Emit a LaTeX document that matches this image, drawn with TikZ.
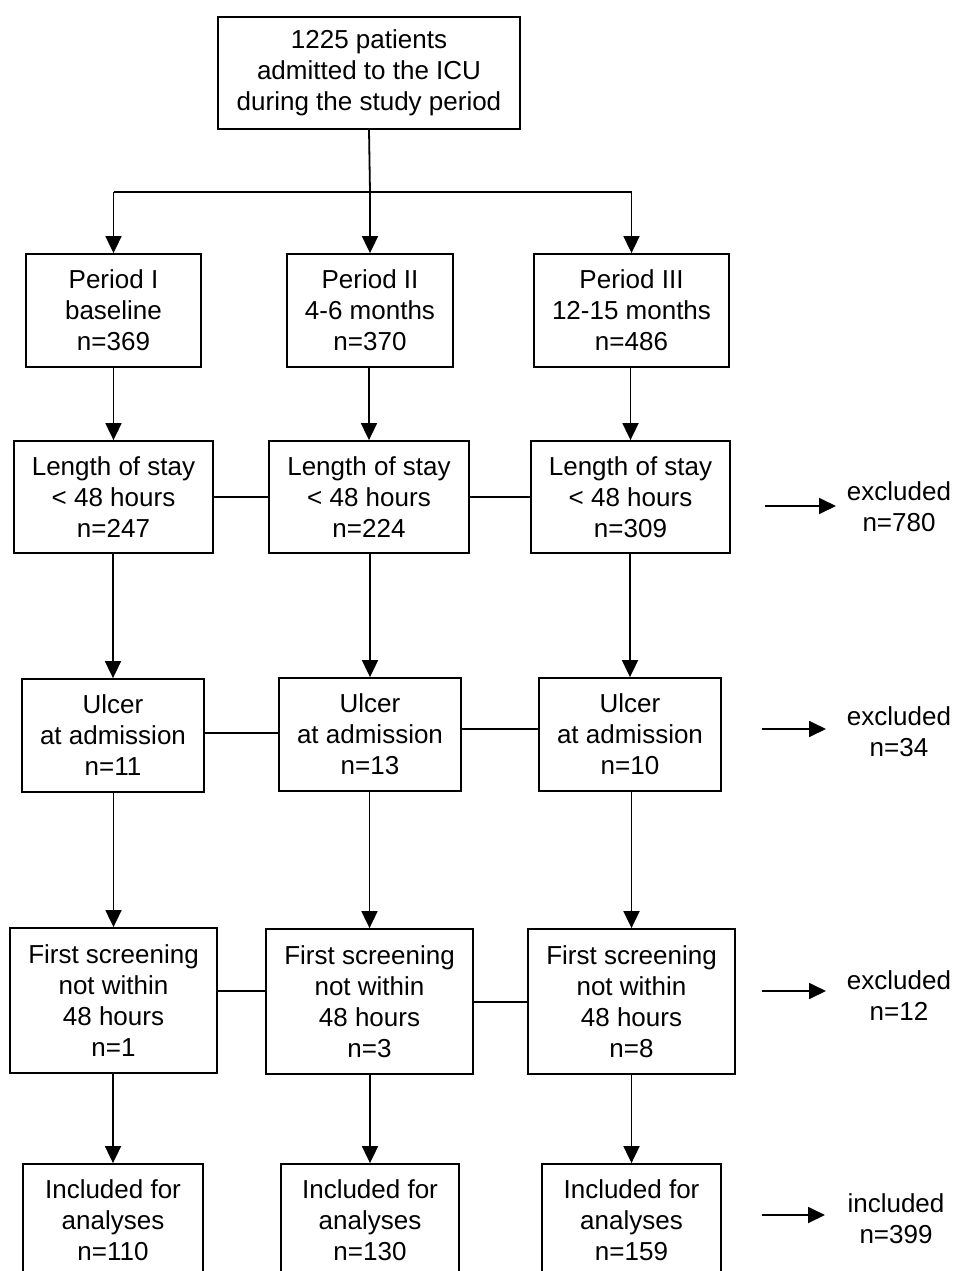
\documentclass[tikz,border=0pt]{standalone}
\usepackage{fontspec}
\setmainfont{Liberation Sans}
\usetikzlibrary{arrows.meta}
\begin{document}
\begin{tikzpicture}[x=1pt,y=-1pt,
  txt/.style={font=\fontsize{26}{31}\selectfont, align=center, inner sep=0pt},
  box/.style={txt, draw, line width=1.8pt},
  ln/.style={line width=1.8pt},
  arr/.style={line width=1.8pt, -{Triangle[length=17pt,width=16pt]}}]
\useasboundingbox (0,0) rectangle (954,1271);
\clip (0,0) rectangle (954,1271);

% top
\node[box, minimum width=302pt, minimum height=112pt] (top) at (369,73) {1225 patients\\admitted to the ICU\\during the study period};

% periods
\node[box, minimum width=175pt, minimum height=113pt] (p1) at (113.5,310.5) {Period I\\baseline\\n=369};
\node[box, minimum width=166pt, minimum height=113pt] (p2) at (370,310.5) {Period II\\4-6 months\\n=370};
\node[box, minimum width=195pt, minimum height=113pt] (p3) at (631.5,310.5) {Period III\\12-15 months\\n=486};

% length of stay
\node[box, minimum width=199pt, minimum height=112pt] (l1) at (113.5,497) {Length of stay\\< 48 hours\\n=247};
\node[box, minimum width=200pt, minimum height=112pt] (l2) at (369,497) {Length of stay\\< 48 hours\\n=224};
\node[box, minimum width=199pt, minimum height=112pt] (l3) at (630.5,497) {Length of stay\\< 48 hours\\n=309};

% ulcer
\node[box, minimum width=182pt, minimum height=113pt] (u1) at (113,735.5) {Ulcer\\at admission\\n=11};
\node[box, minimum width=182pt, minimum height=113pt] (u2) at (370,734.5) {Ulcer\\at admission\\n=13};
\node[box, minimum width=182pt, minimum height=113pt] (u3) at (630,734.5) {Ulcer\\at admission\\n=10};

% screening
\node[box, minimum width=207pt, minimum height=145pt] (s1) at (113.5,1000.5) {First screening\\not within\\48 hours\\n=1};
\node[box, minimum width=207pt, minimum height=145pt] (s2) at (369.5,1001.5) {First screening\\not within\\48 hours\\n=3};
\node[box, minimum width=207pt, minimum height=145pt] (s3) at (631.5,1001.5) {First screening\\not within\\48 hours\\n=8};

% included
\node[box, minimum width=180pt, minimum height=113pt] (i1) at (113,1220.5) {Included for\\analyses\\n=110};
\node[box, minimum width=178pt, minimum height=113pt] (i2) at (370,1220.5) {Included for\\analyses\\n=130};
\node[box, minimum width=179pt, minimum height=113pt] (i3) at (631.5,1220.5) {Included for\\analyses\\n=159};

% side labels
\node[txt] (ex1) at (899,506.5) {excluded\\n=780};
\node[txt] (ex2) at (899,731.5) {excluded\\n=34};
\node[txt] (ex3) at (899,995.5) {excluded\\n=12};
\node[txt] (in4) at (896,1219) {included\\n=399};

% top split
\coordinate (split) at (370,192);
\draw[ln] (top.south) -- (split);
\draw[ln] (p1.north |- split) -- (p3.north |- split);
\foreach \n in {p1,p2,p3} \draw[arr] (\n.north |- split) -- (\n.north);

% vertical arrows
\draw[arr] (l1.north |- p1.south) -- (l1.north);
\draw[arr] (l2.north |- p2.south) -- (l2.north);
\draw[arr] (l3.north |- p3.south) -- (l3.north);
\draw[arr] (u1.north |- l1.south) -- (u1.north);
\draw[arr] (u2.north |- l2.south) -- (u2.north);
\draw[arr] (u3.north |- l3.south) -- (u3.north);
\draw[arr] (s1.north |- u1.south) -- (s1.north);
\draw[arr] (s2.north |- u2.south) -- (s2.north);
\draw[arr] (s3.north |- u3.south) -- (s3.north);
\draw[arr] (i1.north |- s1.south) -- (i1.north);
\draw[arr] (i2.north |- s2.south) -- (i2.north);
\draw[arr] (i3.north |- s3.south) -- (i3.north);

% horizontal links
\draw[ln] (l1.east) -- (l2.west);
\draw[ln] (l2.east) -- (l3.west);
\draw[ln] (u1.east |- 0,733) -- (u2.west |- 0,733);
\draw[ln] (u2.east |- 0,729) -- (u3.west |- 0,729);
\draw[ln] (s1.east |- 0,991) -- (s2.west |- 0,991);
\draw[ln] (s2.east |- 0,1002) -- (s3.west |- 0,1002);

% side arrows
\coordinate (a1s) at (765,506);  \coordinate (a1e) at (836,506);
\coordinate (a2s) at (762,729);  \coordinate (a2e) at (826,729);
\coordinate (a3s) at (762,991);  \coordinate (a3e) at (826,991);
\coordinate (a4s) at (762,1215); \coordinate (a4e) at (825,1215);
\draw[arr] (a1s) -- (a1e);
\draw[arr] (a2s) -- (a2e);
\draw[arr] (a3s) -- (a3e);
\draw[arr] (a4s) -- (a4e);
\end{tikzpicture}
\end{document}
